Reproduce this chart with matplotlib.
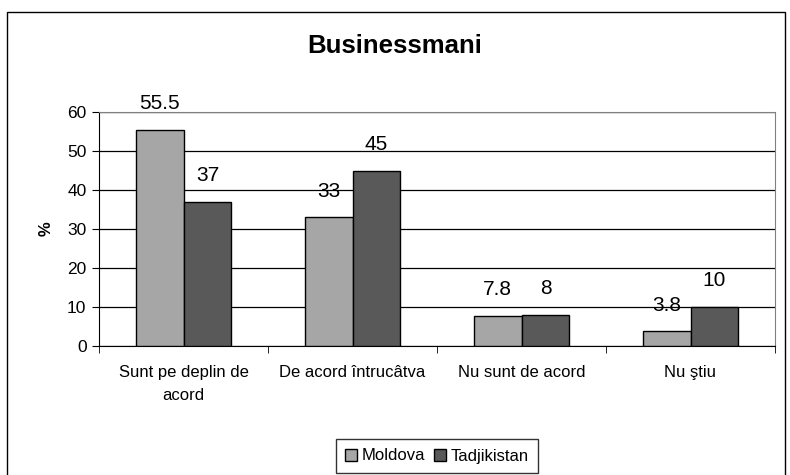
import numpy as np
import matplotlib.pyplot as plt
from matplotlib.patches import Rectangle

plt.rcParams['font.family'] = ['Liberation Sans', 'DejaVu Sans']

categories = ["Sunt pe deplin de\nacord", "De acord întrucâtva", "Nu sunt de acord", "Nu ştiu"]
moldova = [55.5, 33, 7.8, 3.8]
tadjik = [37, 45, 8, 10]
labels_mold = ["55.5", "33", "7.8", "3.8"]
labels_tadj = ["37", "45", "8", "10"]

fig = plt.figure(figsize=(7.9, 4.75), dpi=100)
fig.patches.append(Rectangle((7 / 790, -0.01), 778 / 790, 1 - 12 / 475 + 0.01,
                             transform=fig.transFigure, fill=False, ec="black", lw=1.0))

ax = fig.add_axes([99 / 790, 129 / 475, 676 / 790, 234 / 475])
x = np.arange(len(categories))
w = 0.284
b1 = ax.bar(x - w / 2, moldova, w, color="#a6a6a6", edgecolor="black", lw=1.0, label="Moldova", zorder=3)
b2 = ax.bar(x + w / 2, tadjik, w, color="#595959", edgecolor="black", lw=1.0, label="Tadjikistan", zorder=3)

for bars, labs in ((b1, labels_mold), (b2, labels_tadj)):
    for r, t in zip(bars, labs):
        ax.annotate(t, (r.get_x() + r.get_width() / 2, r.get_height()), xytext=(0, 12),
                    textcoords="offset points", ha="center", va="bottom", fontsize=15)

ax.set_xlim(-0.5, 3.5)
ax.set_ylim(0, 60)
ax.set_yticks(range(0, 61, 10))
ax.yaxis.grid(True, color="black", lw=0.9, zorder=0)
ax.set_xticks(x)
ax.set_xticklabels(categories, fontsize=12, linespacing=1.65)
ax.set_xticks(np.arange(-0.5, 4, 1), minor=True)
ax.tick_params(axis="x", which="major", length=0, pad=14)
ax.tick_params(axis="x", which="minor", length=5, direction="out")
ax.tick_params(axis="y", length=5, direction="out", labelsize=12.5, pad=4)
ax.set_ylabel("%", fontsize=12, fontweight="bold", labelpad=10)
for s in ("top", "right"):
    ax.spines[s].set_color("#808080")
for s in ("left", "bottom"):
    ax.spines[s].set_color("black")

fig.text(0.5, 1 - 46 / 475, "Businessmani", ha="center", va="center", fontsize=18.5, fontweight="bold")

fig.legend(loc="center", bbox_to_anchor=(437 / 790, 1 - 456 / 475), ncol=2, frameon=True,
           fancybox=False, edgecolor="black", fontsize=12, handlelength=0.7, handleheight=0.7,
           handletextpad=0.3, columnspacing=0.5, borderpad=0.55)

fig.savefig("out.png", dpi=100)
